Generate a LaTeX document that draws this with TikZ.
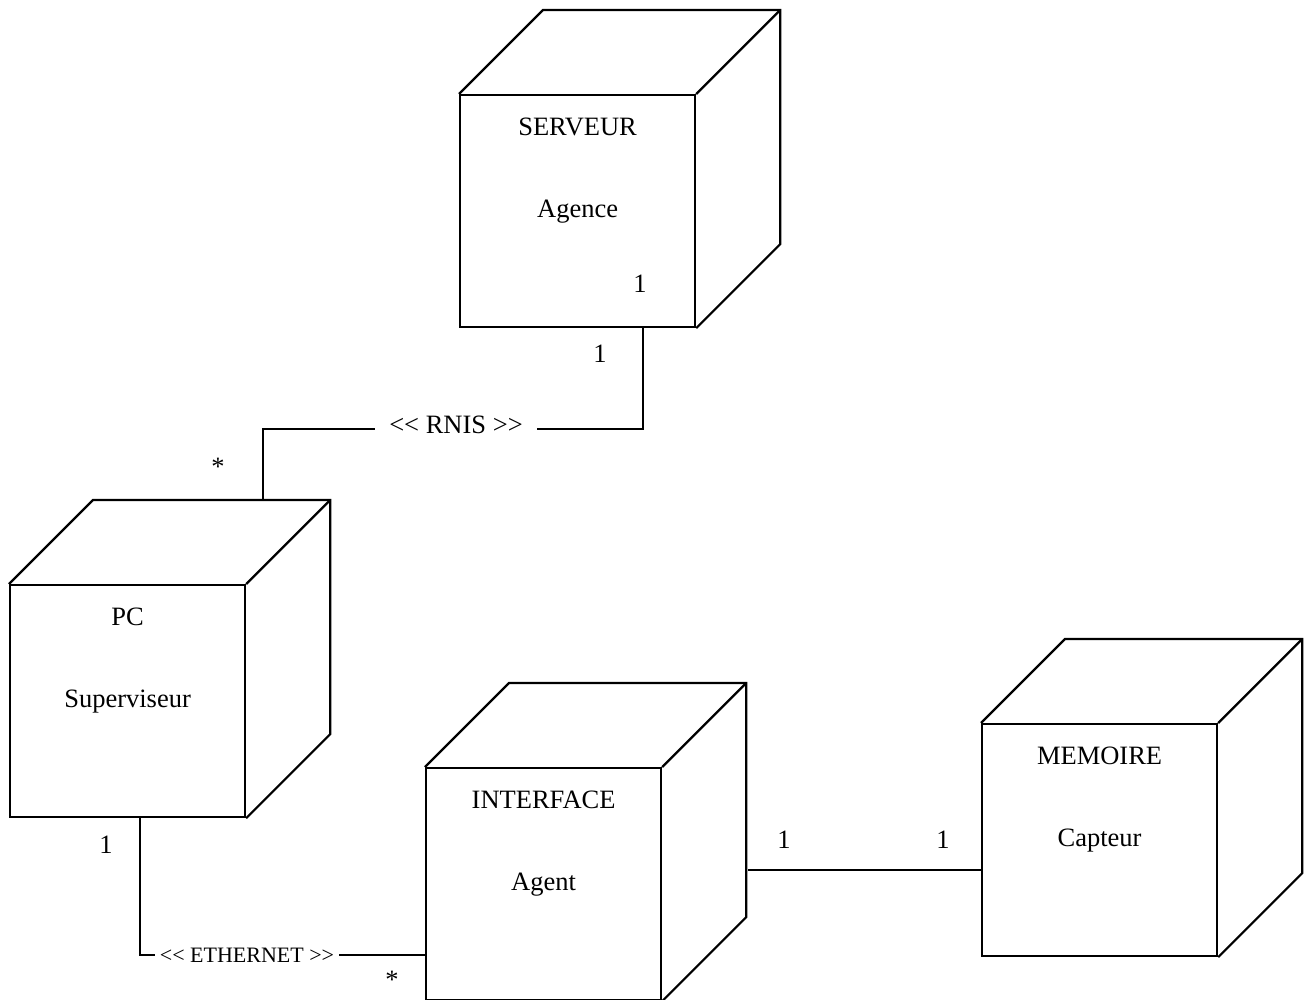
\documentclass[tikz,border=0pt]{standalone}
\usepackage{fontspec}
\setmainfont{Liberation Serif}
\usetikzlibrary{calc}

% guillemet-free double angle brackets (the kern stops the TeX ligature mapping)
\newcommand\dlt{<\kern0pt<}
\newcommand\dgt{>\kern0pt>}

\newcommand\depthx{84}
\newcommand\depthy{84}

\tikzset{
  wire/.style={line width=2.2pt, line join=miter},
  frontface/.style={draw, line width=2.2pt, rectangle, anchor=north west,
    minimum width=235pt, minimum height=232pt, inner sep=0pt},
  txt/.style={anchor=base, inner sep=0pt, font=\fontsize{26.5}{30}\selectfont},
  mult/.style={txt},
  linklabel/.style={anchor=base, fill=white, inner xsep=0pt, inner ysep=1pt,
    font=\fontsize{26.5}{30}\selectfont},
  smalllabel/.style={linklabel, font=\fontsize{22}{26}\selectfont},
}

% a UML deployment node: front face, top and right faces, two text lines
\newcommand\umlnode[5]{%
  \node[frontface] (#1) at (#2,#3) {};
  \draw[wire] (#1.north west) -- ++(\depthx,-\depthy)
    -| ($(#1.south east)+(\depthx pt,\depthy pt)$) -- (#1.south east);
  \draw[wire] (#1.north east) -- ++(\depthx,-\depthy);
  \node[txt] (#1-title) at ([yshift=-41pt]#1.north) {#4};
  \node[txt] (#1-sub) at ([yshift=-123pt]#1.north) {#5};
}

\begin{document}
\begin{tikzpicture}[x=1pt, y=-1pt]
  \useasboundingbox (0,0) rectangle (1305,999);

  \umlnode{srv}{459}{94}{SERVEUR}{Agence}
  \umlnode{pc}{9}{584}{PC}{Superviseur}
  \umlnode{itf}{425}{767}{INTERFACE}{Agent}
  \umlnode{mem}{981}{723}{MEMOIRE}{Capteur}

  % connection end points on the node faces
  \coordinate (srv-port) at ($(srv.south west)+(184pt,0)$);
  \coordinate (pc-top)   at (263,500);
  \coordinate (pc-port)  at ($(pc.south west)+(131pt,0)$);
  \coordinate (itf-port) at ($(itf.north west)+(0,-188pt)$);
  \coordinate (itf-side) at (748,870);
  \coordinate (mem-port) at ($(mem.north west)+(0,-147pt)$);

  % RNIS link between the server and the PC
  \draw[wire] (srv-port) -- ++(0,101) -| (pc-top);
  \node[linklabel, minimum width=162pt] (rnis) at (456,433) {\dlt{} RNIS \dgt};

  % Ethernet link between the PC and the interface
  \draw[wire] (pc-port) |- (itf-port);
  \node[smalllabel, minimum width=184pt] (eth) at (247,962) {\dlt{} ETHERNET \dgt};

  % interface to memory
  \draw[wire] (itf-side) -- (mem-port);

  % multiplicities
  \node[mult] (m-srv-in) at (640,292) {1};
  \node[mult] (m-srv)    at (600,362) {1};
  \node[mult] (m-pc-top) at (218,475) {*};
  \node[mult] (m-pc-bot) at (106,853) {1};
  \node[mult] (m-itf)    at (392,988) {*};
  \node[mult] (m-itf-r)  at (784,848) {1};
  \node[mult] (m-mem)    at (943,848) {1};
\end{tikzpicture}
\end{document}
